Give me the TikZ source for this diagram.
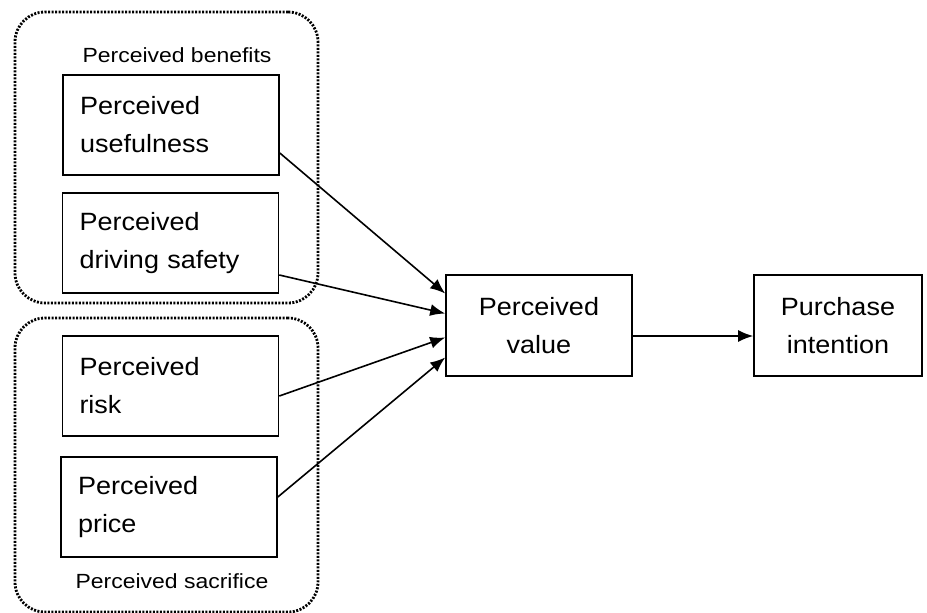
\documentclass[tikz,border=0pt]{standalone}
\usepackage{fontspec}
\setmainfont{Liberation Sans}
\newfontfamily\boxfont[FakeStretch=1.08]{Liberation Sans}
\newfontfamily\labfont[FakeStretch=1.12]{Liberation Sans}
\usetikzlibrary{arrows.meta,calc}
\begin{document}
\begin{tikzpicture}[x=1pt,y=-1pt,
  box/.style={draw, line width=1.6pt, minimum width=216pt, minimum height=100pt,
    text width=182pt, align=left, inner xsep=17pt, inner ysep=0pt,
    font=\boxfont\fontsize{25}{38}\selectfont},
  cbox/.style={draw, line width=1.6pt, minimum height=101pt,
    align=center, inner sep=0pt, font=\boxfont\fontsize{25}{38}\selectfont},
  group/.style={draw, line width=2.8pt, dash pattern=on 2pt off 1.5pt,
    rounded corners=30pt, minimum width=303pt, inner sep=0pt},
  glabel/.style={font=\labfont\fontsize{20.5}{24}\selectfont, inner sep=0pt},
  arr/.style={line width=1.6pt, -{Latex[length=15pt,width=12pt]}}]
\useasboundingbox (0,0) rectangle (927,613);
% groups
\node[group, minimum height=291pt] (gben) at (166.5,157.5) {};
\node[group, minimum height=294pt] (gsac) at (166.5,465) {};
\node[glabel] (lben) at (177,55) {Perceived benefits};
\node[glabel] (lsac) at (172,581) {Perceived sacrifice};
% boxes
\node[box] (use) at (171,125) {Perceived\\usefulness};
\node[box] (saf) at (170.5,243) {Perceived\\driving safety};
\node[box] (risk) at (170.5,386) {Perceived\\risk};
\node[box] (price) at (169,507) {Perceived\\price};
\node[cbox, minimum width=186pt] (val) at (539,325.5) {Perceived\\value};
\node[cbox, minimum width=168pt] (pur) at (838,325.5) {Purchase\\intention};
% arrows
\draw[arr] ([yshift=-28pt]use.east) -- ([yshift=32pt]val.west);
\draw[arr] ([yshift=-32pt]saf.east) -- ([yshift=12pt]val.west);
\draw[arr] ([yshift=-10pt]risk.east) -- ([yshift=-12pt]val.west);
\draw[arr] ([yshift=10pt]price.east) -- ([yshift=-32pt]val.west);
\draw[arr] ([yshift=-10.5pt]val.east) -- ([yshift=-10.5pt]pur.west);
\end{tikzpicture}
\end{document}
